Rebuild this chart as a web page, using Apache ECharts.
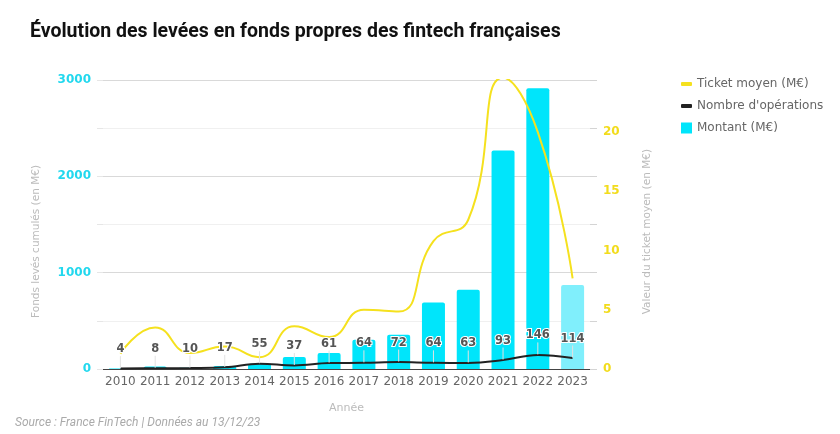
<!DOCTYPE html>
<html><head><meta charset="utf-8">
<script src="https://cdn.jsdelivr.net/npm/echarts@6/dist/echarts.min.js"></script>
<style>html,body{margin:0;padding:0;background:#fff}#c{width:840px;height:434px}</style>
</head><body><div id="c"></div>
<script>
const years = ['2010','2011','2012','2013','2014','2015','2016','2017','2018','2019','2020','2021','2022','2023'];
const montant = [5, 25, 12, 30, 55, 124, 166, 304, 356, 691, 822, 2267, 2914, 871];
const operations = [4, 8, 10, 17, 55, 37, 61, 64, 72, 64, 63, 93, 146, 114];
const ticket = [1.3, 3.5, 1.35, 1.9, 1.0, 3.6, 2.7, 5.0, 4.85, 10.8, 12.6, 24.6, 20.0, 7.65];
const leftTicks = [0, 1000, 2000, 3000];
const rightTicks = [0, 5, 10, 15, 20];

const CYAN = '#00e5fb', CYAN_LIGHT = '#80effc', YEL = '#f5e11e', BLK = '#222222';
const chart = echarts.init(document.getElementById('c'), null, {renderer:'canvas'});
chart.setOption({
  animation: false,
  textStyle: {fontFamily: 'DejaVu Sans'},
  title: [{
    text: 'Évolution des levées en fonds propres des fintech françaises',
    left: 30, top: 22, padding: 0,
    textStyle: {fontFamily: 'Roboto', fontWeight: 'bold', fontSize: 19.5, color: '#111'}
  }, {
    text: 'Source : France FinTech | Données au 13/12/23',
    left: 15, top: 417, padding: 0,
    textStyle: {fontFamily: 'Roboto', fontStyle: 'italic', fontWeight: 'normal', fontSize: 12, color: '#aaa'}
  }],
  legend: [{
    orient: 'vertical', left: 676, top: 71, itemWidth: 11, itemHeight: 4, itemGap: 6,
    icon: 'roundRect',
    textStyle: {fontFamily: 'DejaVu Sans', fontSize: 12, color: '#666', lineHeight: 16},
    data: [{name: 'Ticket moyen (M€)', itemStyle: {color: YEL, opacity: 1}},
           {name: "Nombre d'opérations", itemStyle: {color: BLK, opacity: 1}}]
  }, {
    orient: 'vertical', left: 676, top: 115, itemWidth: 11, itemHeight: 11,
    icon: 'rect',
    textStyle: {fontFamily: 'DejaVu Sans', fontSize: 12, color: '#666', lineHeight: 16},
    data: [{name: 'Montant (M€)', itemStyle: {color: CYAN}}]
  }],
  grid: {left: 103, right: 250, top: 80, bottom: 65},
  xAxis: {
    type: 'category', data: years,
    name: 'Année', nameLocation: 'middle', nameGap: 34,
    nameTextStyle: {color: '#bbb', fontSize: 11},
    axisLine: {lineStyle: {color: '#444'}},
    axisTick: {show: false},
    axisLabel: {color: '#666', fontSize: 12, margin: 7, interval: 0}
  },
  yAxis: [{
    type: 'value', min: 0, max: 3000, interval: 500,
    axisLine: {show: false}, axisTick: {show: true, length: 6, lineStyle: {color: '#e6e6e6'}},
    axisLabel: {color: '#22d8ee', fontWeight: 'bold', fontSize: 12, margin: 12,
      formatter: v => leftTicks.indexOf(v) >= 0 ? String(v) : ''},
    splitLine: {lineStyle: {color: ['#d9d9d9', '#f0f0f0'], width: 1}}
  }, {
    type: 'value', min: 0, max: 24.4, interval: 5, position: 'right',
    axisLine: {show: false}, axisTick: {show: false}, splitLine: {show: false},
    axisLabel: {color: '#f2dc1c', fontWeight: 'bold', fontSize: 12, margin: 13, showMaxLabel: false,
      formatter: v => rightTicks.indexOf(v) >= 0 ? String(v) : ''}
  }, {
    type: 'value', min: 0, max: 3000, interval: 500, position: 'right',
    axisLine: {show: false}, splitLine: {show: false}, axisLabel: {show: false},
    axisTick: {show: true, length: 7, lineStyle: {color: '#d4d4d4'}}
  }],
  graphic: [{
    type: 'text', left: 31, top: 165, rotation: Math.PI / 2,
    style: {text: 'Fonds levés cumulés (en M€)', fill: '#bbb', font: '10.5px "DejaVu Sans"'}
  }, {
    type: 'text', left: 642, top: 149, rotation: Math.PI / 2,
    style: {text: 'Valeur du ticket moyen (en M€)', fill: '#bbb', font: '10.5px "DejaVu Sans"'}
  }],
  series: [{
    name: 'Montant (M€)', type: 'bar', yAxisIndex: 0, barWidth: 23, z: 1,
    itemStyle: {color: CYAN, borderRadius: [2, 2, 0, 0]},
    data: montant.map((v, i) => i === montant.length - 1 ? {value: v, itemStyle: {color: CYAN_LIGHT}} : v)
  }, {
    name: 'Ticket moyen (M€)', type: 'line', yAxisIndex: 1, smooth: 0.5, z: 3,
    showSymbol: false, symbol: 'none', clip: true,
    lineStyle: {color: YEL, width: 2}, itemStyle: {color: YEL},
    data: ticket
  }, {
    name: "Nombre d'opérations", type: 'line', yAxisIndex: 0, smooth: 0.4, z: 4,
    symbol: 'circle', symbolSize: 1, showSymbol: true,
    lineStyle: {color: BLK, width: 2}, itemStyle: {color: 'rgba(0,0,0,0)'},
    label: {show: true, position: 'top', distance: 4, color: '#555', fontWeight: 'bold', fontSize: 11.5,
      textBorderColor: '#fff', textBorderWidth: 2},
    labelLayout: {dy: -9},
    labelLine: {show: true, lineStyle: {color: '#e2e2e2', width: 1}},
    data: operations
  }]
});
</script></body></html>
